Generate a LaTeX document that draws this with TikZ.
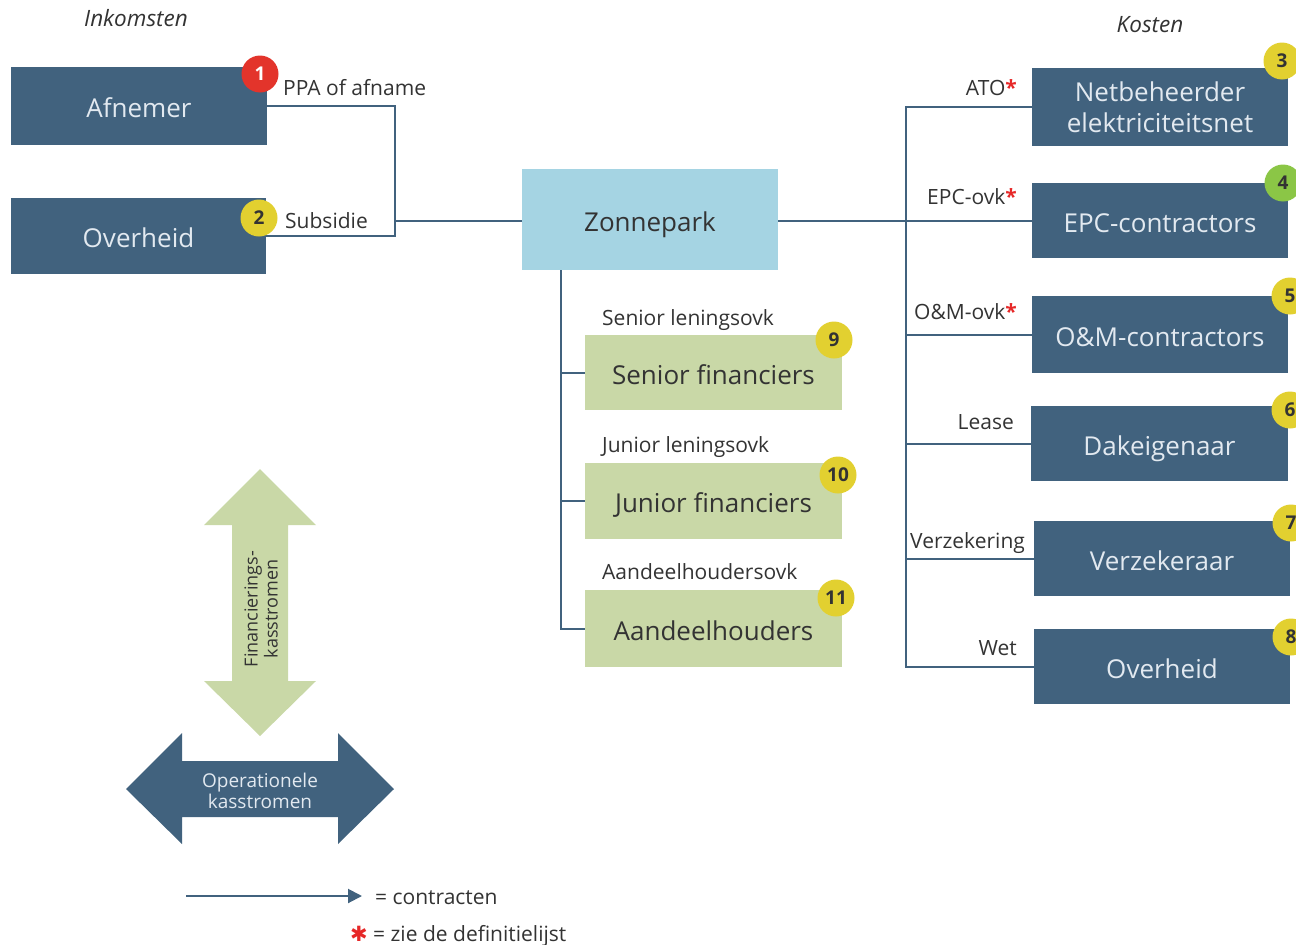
\documentclass[tikz,border=0pt]{standalone}
\usepackage{fontspec}
\setmainfont{Open Sans}
\newfontfamily\dejavu{DejaVu Sans}
\usetikzlibrary{arrows.meta}
\definecolor{dblue}{RGB}{65,98,126}
\definecolor{lblue}{RGB}{165,212,227}
\definecolor{lgreen}{RGB}{201,216,167}
\definecolor{bdgyel}{RGB}{226,208,48}
\definecolor{bdgred}{RGB}{227,52,43}
\definecolor{bdggrn}{RGB}{139,198,70}
\definecolor{txt}{RGB}{51,51,51}
\definecolor{boxtxt}{RGB}{226,233,240}
\definecolor{astred}{RGB}{230,40,40}
\tikzset{
  oneline/.style={text height=23pt, text depth=0pt},
  darkbase/.style={fill=dblue, inner sep=0pt, text=boxtxt, align=center,
    font=\fontsize{26}{28}\selectfont},
  darkbox/.style={darkbase, oneline},
  bluebox/.style={fill=lblue, inner sep=0pt, text=txt, oneline,
    font=\fontsize{26}{28}\selectfont},
  greenbox/.style={fill=lgreen, inner sep=0pt, text=txt, oneline,
    font=\fontsize{26}{28}\selectfont},
  lab/.style={inner sep=0pt, text=txt, font=\fontsize{21}{23}\selectfont},
  hdr/.style={inner sep=0pt, text=txt, font=\fontsize{22.5}{24}\selectfont\itshape},
  badge/.style={circle, minimum size=37pt, inner sep=0pt, text=txt,
    font=\fontsize{19}{20}\selectfont\bfseries},
  conn/.style={draw=dblue, line width=2pt},
}
\newcommand{\redast}{\textcolor{astred}{\textbf{*}}}
\begin{document}
\begin{tikzpicture}[x=1pt,y=-1pt]
\useasboundingbox (0,0) rectangle (1296,945);

% headers
\node[hdr] (hin) at (136,18) {Inkomsten};
\node[hdr] (hko) at (1150,25) {Kosten};

% left boxes
\node[darkbox, minimum width=256pt, minimum height=78pt] (afn) at (139,106) {Afnemer};
\node[darkbox, minimum width=255pt, minimum height=76pt] (ovl) at (138.5,236) {Overheid};

% center
\node[bluebox, minimum width=256pt, minimum height=101pt] (zon) at (650,219.5) {Zonnepark};

% right boxes
\node[darkbase, minimum width=256pt, minimum height=78pt, font=\fontsize{26}{31}\selectfont] (net) at (1160,107) {Netbeheerder\\elektriciteitsnet};
\node[darkbox, minimum width=256pt, minimum height=75pt] (epc) at (1160,220.5) {EPC-contractors};
\node[darkbox, minimum width=256pt, minimum height=77pt] (om) at (1160,334.5) {O\&M-contractors};
\node[darkbox, minimum width=257pt, minimum height=75pt] (dak) at (1159.5,443.5) {Dakeigenaar};
\node[darkbox, minimum width=256pt, minimum height=75pt] (ver) at (1162,558.5) {Verzekeraar};
\node[darkbox, minimum width=256pt, minimum height=75pt] (ovr) at (1162,666.5) {Overheid};

% financing boxes
\node[greenbox, minimum width=257pt, minimum height=75pt] (sen) at (713.5,372.5) {Senior financiers};
\node[greenbox, minimum width=257pt, minimum height=76pt] (jun) at (713.5,501) {Junior financiers};
\node[greenbox, minimum width=257pt, minimum height=77pt] (aan) at (713.5,628.5) {Aandeelhouders};

% connectors left
\coordinate (bx) at (395,221);
\draw[conn] (afn.east) -| (bx) |- (ovl.east);
\draw[conn] (bx) -- (zon.west |- bx);

% connectors right
\coordinate (rt) at (906,221);
\draw[conn] (net.west) -- (net.west -| rt) -- (ovr.west -| rt) -- (ovr.west);
\draw[conn] (zon.east |- rt) -- (epc.west |- rt);
\draw[conn] (om.west -| rt) -- (om.west);
\draw[conn] (dak.west -| rt) -- (dak.west);
\draw[conn] (ver.west -| rt) -- (ver.west);

% connectors financing
\coordinate (ft) at (561,0);
\draw[conn] (zon.south -| ft) |- (aan.west);
\draw[conn] (sen.west -| ft) -- (sen.west);
\draw[conn] (jun.west -| ft) -- (jun.west);

% labels
\node[lab, anchor=base west] (lppa) at (283,95) {PPA of afname};
\node[lab, anchor=base west] (lsub) at (285,228) {Subsidie};
\node[lab, anchor=base east] (lato) at (1017,95) {ATO\redast};
\node[lab, anchor=base east] (lepc) at (1017,204) {EPC-ovk\redast};
\node[lab, anchor=base east] (lom) at (1017,319) {O\&M-ovk\redast};
\node[lab, anchor=base east] (llea) at (1014,429) {Lease};
\node[lab, anchor=base west] (lver) at (910,548) {Verzekering};
\node[lab, anchor=base east] (lwet) at (1017,655) {Wet};
\node[lab, anchor=base west] (lsen) at (602,325) {Senior leningsovk};
\node[lab, anchor=base west] (ljun) at (602,452) {Junior leningsovk};
\node[lab, anchor=base west] (laan) at (602,579) {Aandeelhoudersovk};

% badges
\node[badge, fill=bdgred, text=white] (b1) at (260,74) {1};
\node[badge, fill=bdgyel] (b2) at (259,218) {2};
\node[badge, fill=bdgyel] (b3) at (1282,61) {3};
\node[badge, fill=bdggrn] (b4) at (1283,183) {4};
\node[badge, fill=bdgyel] (b5) at (1290,296) {5};
\node[badge, fill=bdgyel] (b6) at (1290,410) {6};
\node[badge, fill=bdgyel] (b7) at (1291,523) {7};
\node[badge, fill=bdgyel] (b8) at (1291,637) {8};
\node[badge, fill=bdgyel] (b9) at (834,340) {9};
\node[badge, fill=bdgyel] (b10) at (838,475) {10};
\node[badge, fill=bdgyel] (b11) at (836,598) {11};

% vertical double arrow (financing)
\fill[lgreen] (260,469) -- (316,525) -- (288,525) -- (288,681) -- (316,681)
  -- (260,736) -- (204,681) -- (232,681) -- (232,525) -- (204,525) -- cycle;
\node[lab, rotate=90, align=center, font=\fontsize{18}{20}\selectfont] (tfin) at (261,609) {Financierings-\\kasstromen};

% horizontal double arrow (operational)
\fill[dblue] (126,789) -- (182,733) -- (182,761) -- (338,761) -- (338,733)
  -- (394,789) -- (338,844) -- (338,817) -- (182,817) -- (182,844) -- cycle;
\node[lab, text=boxtxt, align=center, font=\fontsize{19}{21}\selectfont] (top) at (260,791) {Operationele\\kasstromen};

% legend
\coordinate (la) at (186,896);
\coordinate (lb) at (362,896);
\draw[conn, -{Triangle[length=14pt,width=14pt]}] (la) -- (lb);
\node[lab, anchor=base west] (lcon) at (375,904) {= contracten};
\node[lab, anchor=base west] (ldef) at (373,941) {= zie de definitielijst};
\node[inner sep=0pt, text=astred, font=\fontsize{21}{21}\selectfont\dejavu] (last) at (359,934) {✱};
\end{tikzpicture}
\end{document}
